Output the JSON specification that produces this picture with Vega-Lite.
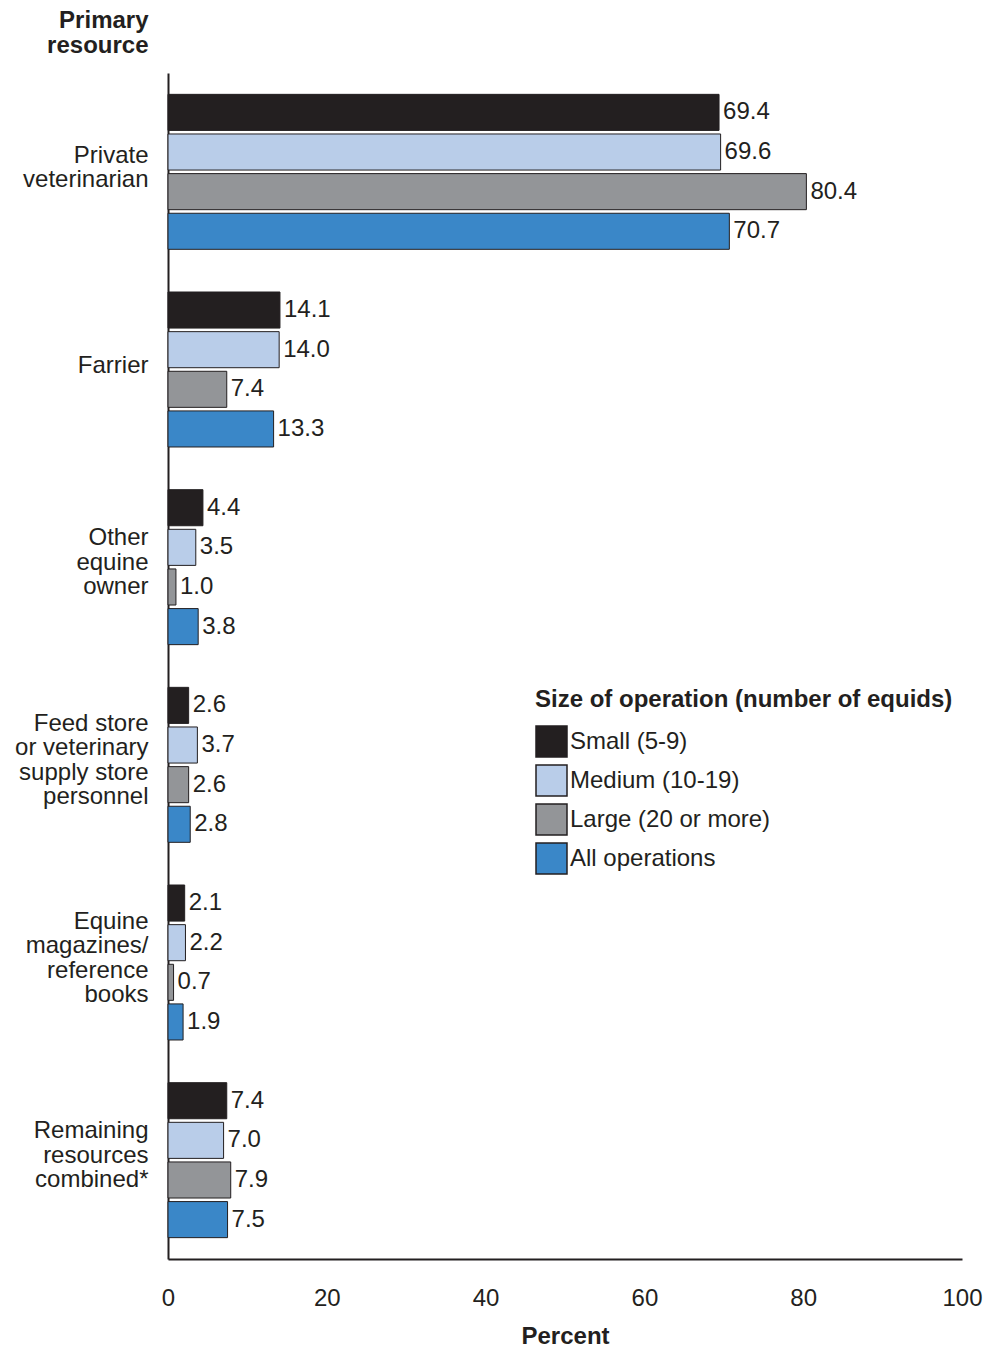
{
  "$schema": "https://vega.github.io/schema/vega-lite/v6.json",
  "width": 794,
  "height": 1186,
  "autosize": {"type": "none"},
  "padding": {"left": 168, "top": 73, "right": 28, "bottom": 89},
  "background": "white",
  "config": {
    "view": {"stroke": null},
    "font": "Liberation Sans",
    "axis": {"labelColor": "#231f20", "titleColor": "#231f20", "domainColor": "#231f20", "domainWidth": 2, "grid": false, "ticks": false},
    "legend": {"labelColor": "#231f20", "titleColor": "#231f20"}
  },
  "data": {
    "values": [
      {"resource": "Private veterinarian", "size": "Small (5-9)", "percent": 69.4},
      {"resource": "Private veterinarian", "size": "Medium (10-19)", "percent": 69.6},
      {"resource": "Private veterinarian", "size": "Large (20 or more)", "percent": 80.4},
      {"resource": "Private veterinarian", "size": "All operations", "percent": 70.7},
      {"resource": "Farrier", "size": "Small (5-9)", "percent": 14.1},
      {"resource": "Farrier", "size": "Medium (10-19)", "percent": 14.0},
      {"resource": "Farrier", "size": "Large (20 or more)", "percent": 7.4},
      {"resource": "Farrier", "size": "All operations", "percent": 13.3},
      {"resource": "Other equine owner", "size": "Small (5-9)", "percent": 4.4},
      {"resource": "Other equine owner", "size": "Medium (10-19)", "percent": 3.5},
      {"resource": "Other equine owner", "size": "Large (20 or more)", "percent": 1.0},
      {"resource": "Other equine owner", "size": "All operations", "percent": 3.8},
      {"resource": "Feed store or veterinary supply store personnel", "size": "Small (5-9)", "percent": 2.6},
      {"resource": "Feed store or veterinary supply store personnel", "size": "Medium (10-19)", "percent": 3.7},
      {"resource": "Feed store or veterinary supply store personnel", "size": "Large (20 or more)", "percent": 2.6},
      {"resource": "Feed store or veterinary supply store personnel", "size": "All operations", "percent": 2.8},
      {"resource": "Equine magazines/reference books", "size": "Small (5-9)", "percent": 2.1},
      {"resource": "Equine magazines/reference books", "size": "Medium (10-19)", "percent": 2.2},
      {"resource": "Equine magazines/reference books", "size": "Large (20 or more)", "percent": 0.7},
      {"resource": "Equine magazines/reference books", "size": "All operations", "percent": 1.9},
      {"resource": "Remaining resources combined*", "size": "Small (5-9)", "percent": 7.4},
      {"resource": "Remaining resources combined*", "size": "Medium (10-19)", "percent": 7.0},
      {"resource": "Remaining resources combined*", "size": "Large (20 or more)", "percent": 7.9},
      {"resource": "Remaining resources combined*", "size": "All operations", "percent": 7.5}
    ]
  },
  "encoding": {
    "y": {
      "field": "resource",
      "type": "nominal",
      "sort": ["Private veterinarian", "Farrier", "Other equine owner", "Feed store or veterinary supply store personnel", "Equine magazines/reference books", "Remaining resources combined*"],
      "scale": {"paddingInner": 0.216, "paddingOuter": 0.108},
      "axis": {
        "title": ["Primary", "resource"],
        "titleAngle": 0,
        "titleAlign": "right",
        "titleBaseline": "alphabetic",
        "titleX": -20,
        "titleY": -46,
        "titleFontWeight": "bold",
        "titleFontSize": 24,
        "titleLineHeight": 25,
        "labelFontSize": 24,
        "labelLineHeight": 24.5,
        "labelPadding": 20,
        "labelLimit": 300,
        "labelOffset": {
          "condition": [
            {"test": "datum.value == 'Farrier'", "value": -4},
            {"test": "datum.value == 'Private veterinarian'", "value": -16},
            {"test": "datum.value == 'Other equine owner' || datum.value == 'Remaining resources combined*'", "value": -29}
          ],
          "value": -41
        },
        "labelExpr": "datum.label == 'Private veterinarian' ? ['Private', 'veterinarian'] : datum.label == 'Other equine owner' ? ['Other', 'equine', 'owner'] : datum.label == 'Feed store or veterinary supply store personnel' ? ['Feed store', 'or veterinary', 'supply store', 'personnel'] : datum.label == 'Equine magazines/reference books' ? ['Equine', 'magazines/', 'reference', 'books'] : datum.label == 'Remaining resources combined*' ? ['Remaining', 'resources', 'combined*'] : datum.label"
      }
    },
    "yOffset": {
      "field": "size",
      "type": "nominal",
      "sort": ["Small (5-9)", "Medium (10-19)", "Large (20 or more)", "All operations"],
      "scale": {"paddingInner": 0.09, "paddingOuter": 0}
    },
    "x": {
      "field": "percent",
      "type": "quantitative",
      "scale": {"domain": [0, 100], "nice": false},
      "axis": {
        "title": "Percent",
        "values": [0, 20, 40, 60, 80, 100],
        "labelFlush": false,
        "labelPadding": 27,
        "labelFontSize": 24,
        "titleFontSize": 24,
        "titleFontWeight": "bold",
        "titleBaseline": "alphabetic",
        "titleY": 84
      }
    }
  },
  "layer": [
    {
      "mark": {"type": "bar", "stroke": "#231f20", "strokeWidth": 1},
      "encoding": {
        "color": {
          "field": "size",
          "type": "nominal",
          "scale": {
            "domain": ["Small (5-9)", "Medium (10-19)", "Large (20 or more)", "All operations"],
            "range": ["#231f20", "#b9cde9", "#939598", "#3a87c8"]
          },
          "legend": {
            "orient": "none",
            "legendX": 367,
            "legendY": 615,
            "padding": 0,
            "title": "Size of operation (number of equids)",
            "titleFontSize": 24,
            "titleFontWeight": "bold",
            "titlePadding": 13,
            "titleLimit": 600,
            "labelFontSize": 24,
            "labelLimit": 400,
            "labelOffset": 2,
            "symbolType": "square",
            "symbolSize": 961,
            "symbolStrokeColor": "#231f20",
            "symbolStrokeWidth": 1.5,
            "symbolOpacity": 1,
            "rowPadding": 2
          }
        }
      }
    },
    {
      "mark": {"type": "text", "align": "left", "baseline": "middle", "dx": 4, "fontSize": 24, "color": "#231f20"},
      "encoding": {
        "text": {"field": "percent", "type": "quantitative", "format": ".1f"}
      }
    }
  ]
}
